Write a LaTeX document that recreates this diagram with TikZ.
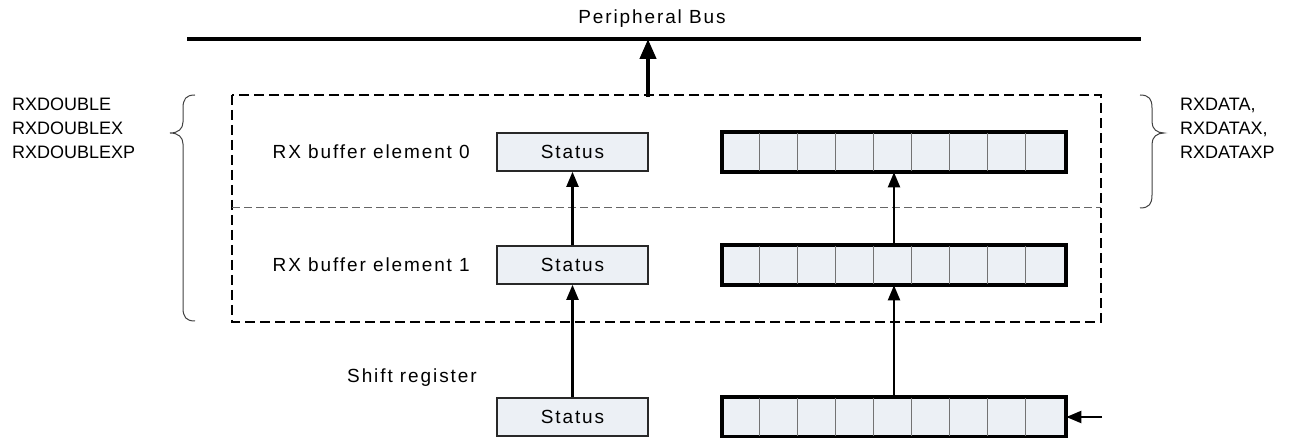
\documentclass[tikz,border=0pt]{standalone}
\usepackage{fontspec}
\setmainfont{Liberation Sans}
\newfontfamily\spacedfont[LetterSpace=10]{Liberation Sans}
\usepackage{xcolor}
\usetikzlibrary{arrows.meta,positioning}

\definecolor{regfill}{RGB}{236,240,245}
\definecolor{regline}{RGB}{40,40,40}

\begin{document}
\begin{tikzpicture}[
  x=1pt, y=-1pt,
  font=\fontsize{18}{24}\selectfont,
  stbox/.style={draw=regline, line width=1.6pt, fill=regfill,
                minimum width=151pt, minimum height=38pt, inner sep=0pt,
                font=\fontsize{19}{24}\selectfont\spacedfont},
  regbox/.style={draw=black, line width=2.6pt, fill=regfill,
                 minimum width=342pt, minimum height=38pt, inner sep=0pt},
  lbl/.style={font=\fontsize{19}{24}\selectfont\spacedfont, inner sep=0pt},
  reglbl/.style={align=left, inner sep=0pt},
  arr/.style={-{Triangle[length=15pt,width=12pt]}, line width=2.1pt},
  busarr/.style={-{Triangle[length=20pt,width=16pt]}, line width=4.2pt},
  brace/.style={line width=1pt, draw=black!75},
]
\useasboundingbox (0,0) rectangle (1307,438);

% peripheral bus
\coordinate (busL) at (187,39);
\coordinate (busR) at (1141,39);
\draw[line width=4.8pt] (busL) -- (busR);
\node[lbl] (bus) at (652,19) {Peripheral Bus};

% double buffer frame
\draw[dash pattern=on 10pt off 5pt, line width=1.6pt]
  (232,95) rectangle (1101,322);
\draw[dash pattern=on 8pt off 4pt, line width=1pt, draw=black!60]
  (232,208) -- (1101,208);
\coordinate (tap) at (648,97);
\coordinate (bustap) at (648,39);
\draw[busarr] (tap) -- (bustap);

% status registers
\node[stbox] (st0) at (572.5,152) {Status};
\node[stbox] (st1) at (572.5,265) {Status};
\node[stbox] (st2) at (572.5,417) {Status};

% data registers
\foreach \r/\y in {0/152, 1/265, 2/417} {
  \node[regbox] (dat\r) at (894,\y) {};
  \foreach \i in {1,...,8}
    \draw[line width=0.9pt, draw=black!55]
      ([xshift=\i*38pt]dat\r.north west) -- ([xshift=\i*38pt]dat\r.south west);
  \draw[line width=2.6pt] (dat\r.north west) rectangle (dat\r.south east);
}

\node[lbl, anchor=east] (el0) at (470,152) {RX buffer element 0};
\node[lbl, anchor=east] (el1) at (470,265) {RX buffer element 1};
\node[lbl, anchor=west] (shift) at (347,378) {Shift register};

% data flow
\draw[arr] (st2) -- (st1);
\draw[arr] (st1) -- (st0);
\draw[arr] (dat2) -- (dat1);
\draw[arr] (dat1) -- (dat0);
\coordinate (rxin) at (1102,417);
\draw[arr] (rxin) -- (dat2.east);

% register names
\node[reglbl, anchor=north west] (dbl) at (12,98)
  {RXDOUBLE\\RXDOUBLEX\\RXDOUBLEXP};
\node[reglbl, anchor=north west] (dat) at (1180,98)
  {RXDATA,\\RXDATAX,\\RXDATAXP};

% braces
\draw[brace] (195,95) .. controls (186,95) and (183,99) .. (183,108)
  -- (183,122) .. controls (183,129) and (178,133) .. (170,133)
  .. controls (178,133) and (183,137) .. (183,144)
  -- (183,308) .. controls (183,317) and (186,321) .. (195,321);
\draw[brace] (1140,95) .. controls (1149,95) and (1152,99) .. (1152,108)
  -- (1152,122) .. controls (1152,129) and (1157,133) .. (1164,133)
  .. controls (1157,133) and (1152,137) .. (1152,144)
  -- (1152,195) .. controls (1152,204) and (1149,208) .. (1140,208);
\end{tikzpicture}
\end{document}
